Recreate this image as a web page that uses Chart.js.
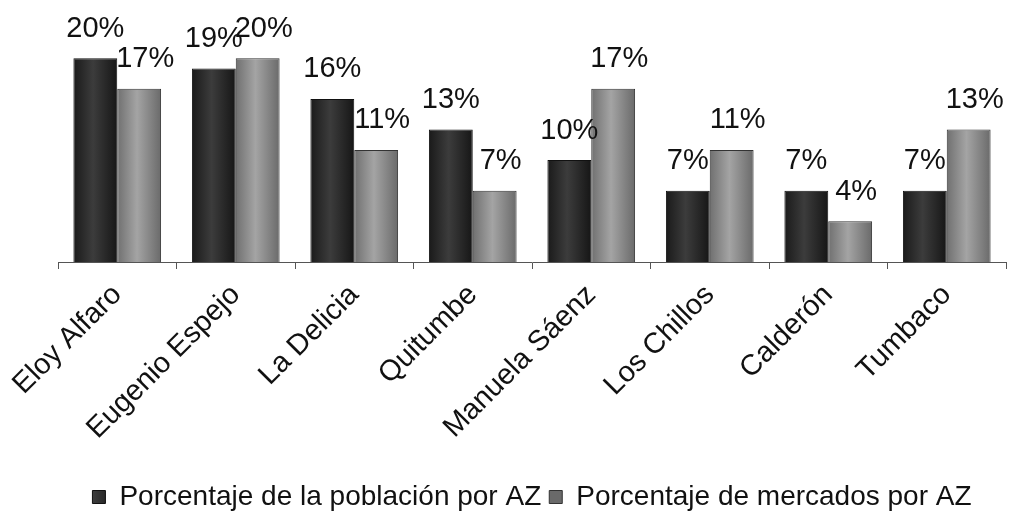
<!DOCTYPE html>
<html>
<head>
<meta charset="utf-8">
<script src="https://cdn.jsdelivr.net/npm/chart.js@4.4.0/dist/chart.umd.min.js"></script>
<style>
  html, body { margin: 0; padding: 0; background: #fff; }
  #wrap { width: 1010px; height: 527px; }
</style>
</head>
<body>
<div id="wrap"><canvas id="chart"></canvas></div>
<script>
const zonas = ['Eloy Alfaro', 'Eugenio Espejo', 'La Delicia', 'Quitumbe', 'Manuela Sáenz', 'Los Chillos', 'Calderón', 'Tumbaco'];
const poblacion = [20, 19, 16, 13, 10, 7, 7, 7];
const mercados = [17, 20, 11, 7, 17, 11, 4, 13];
const nombresSeries = ['Porcentaje de la población por AZ', 'Porcentaje de mercados por AZ'];

const FUENTE = '"Liberation Sans", Arial, sans-serif';
const ANCHO_GRUPO = 0.74;

// degradado horizontal tipo cilindro, calculado desde la escala x
function cilindro(tonos) {
    return (c) => {
        const chart = c.chart;
        const x = chart.scales.x;
        if (!chart.chartArea || !x || c.dataIndex === undefined) return tonos[1];
        const cat = x.width / zonas.length;
        const w = cat * ANCHO_GRUPO / 2;
        const centro = x.getPixelForValue(c.dataIndex) + (c.datasetIndex === 0 ? -w / 2 : w / 2);
        const g = chart.ctx.createLinearGradient(centro - w / 2, 0, centro + w / 2, 0);
        g.addColorStop(0, tonos[0]);
        g.addColorStop(0.45, tonos[1]);
        g.addColorStop(1, tonos[2]);
        return g;
    };
}

// etiquetas de porcentaje encima de cada barra
const etiquetas = {
    id: 'etiquetas',
    afterDatasetsDraw(chart) {
        const ctx = chart.ctx;
        ctx.save();
        ctx.font = '29px ' + FUENTE;
        ctx.fillStyle = '#111';
        ctx.textAlign = 'center';
        ctx.textBaseline = 'bottom';
        chart.data.datasets.forEach((ds, i) => {
            chart.getDatasetMeta(i).data.forEach((bar, j) => {
                ctx.fillText(ds.data[j] + '%', bar.x + (i === 1 ? 6 : 0), bar.y - 15);
            });
        });
        ctx.restore();
    }
};

new Chart(document.getElementById('chart'), {
    type: 'bar',
    data: {
        labels: zonas,
        datasets: [{
            label: nombresSeries[0],
            data: poblacion,
            backgroundColor: cilindro(['#1a1a1a', '#3c3c3c', '#161616']),
            borderColor: '#111',
            borderWidth: 1
        }, {
            label: nombresSeries[1],
            data: mercados,
            backgroundColor: cilindro(['#707070', '#a4a4a4', '#6a6a6a']),
            borderColor: '#333',
            borderWidth: 1
        }]
    },
    options: {
        responsive: true,
        maintainAspectRatio: false,
        animation: false,
        layout: { padding: { top: 48, left: 58, right: 4, bottom: 6 } },
        categoryPercentage: ANCHO_GRUPO,
        barPercentage: 1,
        scales: {
            y: { display: false, min: 0, max: 21 },
            x: {
                grid: { drawOnChartArea: false, color: '#555', tickLength: 7 },
                border: { color: '#555', width: 1 },
                ticks: {
                    color: '#111',
                    minRotation: 45,
                    maxRotation: 45,
                    padding: 9,
                    font: { family: FUENTE, size: 29 }
                },
                afterFit(scale) { scale.height = 213; }
            }
        },
        plugins: {
            tooltip: { enabled: false },
            legend: {
                position: 'bottom',
                labels: {
                    color: '#111',
                    boxWidth: 13,
                    boxHeight: 13,
                    padding: 8,
                    font: { family: FUENTE, size: 28 }
                }
            }
        }
    },
    plugins: [etiquetas]
});
</script>
</body>
</html>
